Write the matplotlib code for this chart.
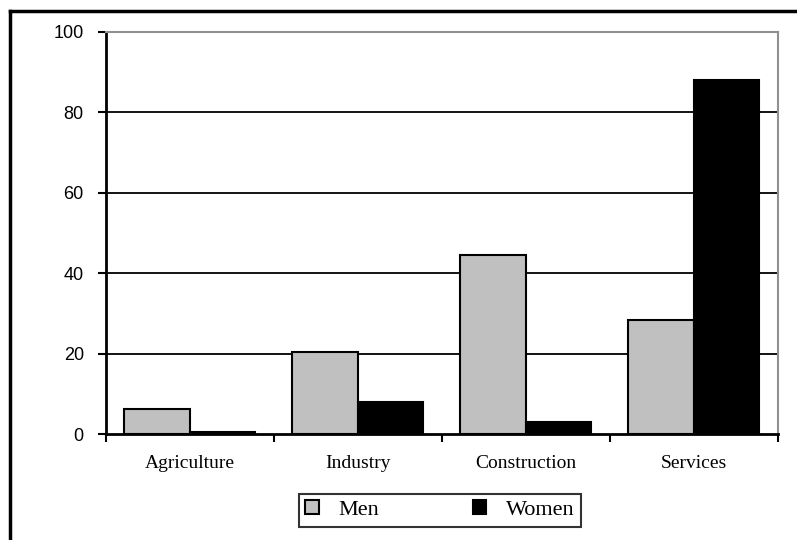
import numpy as np
import matplotlib
matplotlib.use("Agg")
import matplotlib.pyplot as plt
from matplotlib.lines import Line2D

# Дані
categories = ["Agriculture", "Industry", "Construction", "Services"]
men = [6.2, 20.5, 44.5, 28.3]
women = [0.5, 8.0, 3.0, 88.0]

fig = plt.figure(figsize=(7.97, 5.40), dpi=100)
ax = fig.add_axes([0.133, 0.196, 0.843, 0.745])

x = np.arange(len(categories))
w = 0.39
ax.bar(x - w / 2, men, w, color="#c0c0c0", edgecolor="black", linewidth=1.5, label="Men", zorder=3)
ax.bar(x + w / 2, women, w, color="black", edgecolor="black", linewidth=1.5, label="Women", zorder=3)

ax.set_xlim(-0.5, 3.5)
ax.set_ylim(0, 100)

# сітка
for yv in [20, 40, 60, 80]:
    ax.axhline(yv, color="black", linewidth=1.3, zorder=1)

ax.spines["top"].set_color("#909090")
ax.spines["right"].set_color("#909090")
ax.spines["top"].set_linewidth(1.5)
ax.spines["right"].set_linewidth(1.5)
ax.spines["left"].set_linewidth(2)
ax.spines["bottom"].set_linewidth(2)

ax.set_yticks([0, 20, 40, 60, 80, 100])
ax.set_yticklabels(["0", "20", "40", "60", "80", "100"], family="Liberation Sans", fontsize=13)
ax.tick_params(axis="y", direction="out", length=6, width=1.5, pad=10)

ax.set_xticks([-0.5, 0.5, 1.5, 2.5, 3.5])
ax.set_xticklabels([])
ax.set_xticks(x, minor=True)
ax.set_xticklabels(categories, minor=True, family="Liberation Serif", fontsize=14)
ax.tick_params(axis="x", which="major", direction="out", length=6, width=1.5)
ax.tick_params(axis="x", which="minor", length=0, pad=15)

leg = ax.legend(loc="upper center", bbox_to_anchor=(0.497, -0.148), ncol=2, frameon=True,
                fancybox=False, edgecolor="black", prop={"family": "Liberation Serif", "size": 16},
                handlelength=0.6, handleheight=0.6, columnspacing=4.2, handletextpad=0.9,
                borderpad=0.3, borderaxespad=0)
leg.get_frame().set_linewidth(1.5)

# рамка зображення
fig.add_artist(Line2D([10 / 797, 1.0], [1 - 11 / 540, 1 - 11 / 540], color="black", linewidth=2.5))
fig.add_artist(Line2D([10 / 797, 10 / 797], [0.0, 1 - 11 / 540], color="black", linewidth=2.5))

fig.savefig("out.png", dpi=100)
